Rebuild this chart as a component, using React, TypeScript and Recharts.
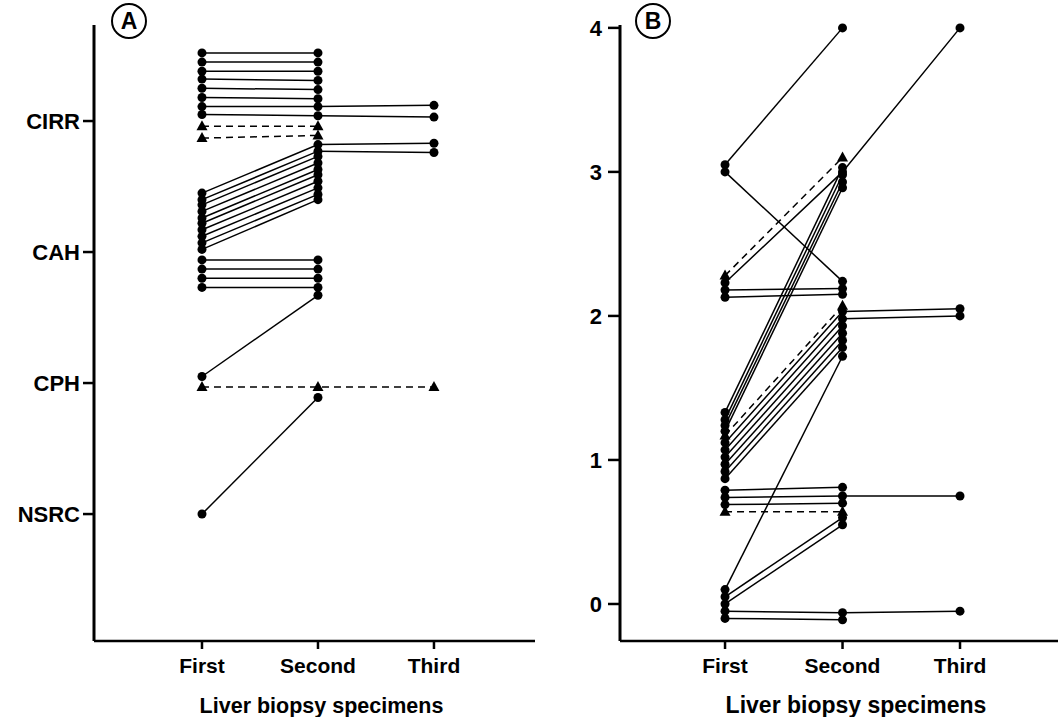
import React from 'react';
import { LineChart, Line, XAxis, YAxis } from 'recharts';

const stages = ['First', 'Second', 'Third'];
const classLabels = ['NSRC', 'CPH', 'CAH', 'CIRR'];
const classTicks = [0, 1, 2, 3];
const scoreTicks = [0, 1, 2, 3, 4];
const axisTitle = 'Liver biopsy specimens';

// Panel A: histological class per patient (0 = NSRC ... 3 = CIRR), null = no biopsy
const aFirst = [3.52, 3.45, 3.38, 3.32, 3.25, 3.18, 3.11, 3.05, 2.96, 2.87, 2.45, 2.4, 2.36, 2.31, 2.26, 2.22, 2.17, 2.12, 2.07, 2.02, 1.94, 1.87, 1.8, 1.73, 1.05, 0.97, 0.0];
const aSecond = [3.52, 3.45, 3.38, 3.31, 3.24, 3.17, 3.11, 3.04, 2.96, 2.89, 2.82, 2.77, 2.73, 2.68, 2.63, 2.59, 2.54, 2.49, 2.44, 2.4, 1.94, 1.87, 1.8, 1.73, 1.67, 0.97, 0.89];
const aThird = [null, null, null, null, null, null, 3.12, 3.03, null, null, 2.83, 2.76, null, null, null, null, null, null, null, null, null, null, null, null, null, 0.97, null];
const aDashed = [8, 9, 25];

// Panel B: score per patient
const bFirst = [3.05, 3.0, 2.28, 2.23, 2.18, 2.13, 1.33, 1.28, 1.24, 1.2, 1.17, 1.12, 1.07, 1.02, 0.97, 0.92, 0.87, 0.1, 0.79, 0.74, 0.69, 0.64, 0.05, 0.0, -0.05, -0.1];
const bSecond = [4.0, 2.24, 3.1, 3.0, 2.19, 2.15, 3.03, 2.98, 2.93, 2.89, 2.07, 2.03, 1.98, 1.93, 1.88, 1.83, 1.78, 1.72, 0.81, 0.75, 0.7, 0.64, 0.6, 0.55, -0.06, -0.11];
const bThird = [null, null, null, 4.0, null, null, null, null, null, null, null, 2.05, 2.0, null, null, null, null, null, null, 0.75, null, null, null, null, -0.05, null];
const bDashed = [2, 10, 21];

const FONT = '"Liberation Sans", Arial, Helvetica, sans-serif';

const buildRows = (first: (number | null)[], second: (number | null)[], third: (number | null)[]) =>
  [first, second, third].map((vals, i) => {
    const row: any = { x: i + 1 };
    vals.forEach((v, k) => {
      row['p' + k] = v;
    });
    return row;
  });

const dotFor = (tri: boolean) => (p: any) => {
  const key = `${p.dataKey}-${p.index}`;
  if (p.value == null || p.cy == null || isNaN(p.cy)) return <g key={key} />;
  if (tri) {
    return (
      <polygon
        key={key}
        points={`${p.cx},${p.cy - 6} ${p.cx - 5.5},${p.cy + 4} ${p.cx + 5.5},${p.cy + 4}`}
        fill="#000"
      />
    );
  }
  return <circle key={key} cx={p.cx} cy={p.cy} r={4.5} fill="#000" />;
};

interface PanelProps {
  first: (number | null)[];
  second: (number | null)[];
  third: (number | null)[];
  dashed: number[];
  width: number;
  yWidth: number;
  xDomain: [number, number];
  yDomain: [number, number];
  yTicks: number[];
  yFormat: (v: number) => string;
  yTickSize: number;
  yTickMargin: number;
  titleSize: number;
  titleDx: number;
}

const Panel: React.FC<PanelProps> = (props) => {
  const data = buildRows(props.first, props.second, props.third);
  return (
    <LineChart width={props.width} height={717} data={data} margin={{ top: 25, right: 6, bottom: 0, left: 0 }}>
      <XAxis
        type="number"
        dataKey="x"
        domain={props.xDomain}
        ticks={[1, 2, 3]}
        tickFormatter={(v: number) => stages[v - 1]}
        height={76}
        axisLine={{ stroke: '#000', strokeWidth: 2.5 }}
        tickLine={{ stroke: '#000', strokeWidth: 2.5 }}
        tickSize={8}
        tickMargin={9}
        tick={{ fill: '#000', fontSize: 21, fontWeight: 'bold', fontFamily: FONT }}
        label={{
          value: axisTitle,
          position: 'insideBottom',
          offset: 4,
          dx: props.titleDx,
          style: { fill: '#000', fontSize: props.titleSize, fontWeight: 'bold', fontFamily: FONT },
        }}
      />
      <YAxis
        type="number"
        domain={props.yDomain}
        ticks={props.yTicks}
        tickFormatter={props.yFormat}
        width={props.yWidth}
        axisLine={{ stroke: '#000', strokeWidth: 3 }}
        tickLine={{ stroke: '#000', strokeWidth: 2.5 }}
        tickSize={props.yTickSize}
        tickMargin={props.yTickMargin}
        tick={{ fill: '#000', fontSize: 22, fontWeight: 'bold', fontFamily: FONT }}
      />
      {props.first.map((_, k) => {
        const isDashed = props.dashed.includes(k);
        return (
          <Line
            key={k}
            type="linear"
            dataKey={'p' + k}
            stroke="#000"
            strokeWidth={1.5}
            strokeDasharray={isDashed ? '7 5' : undefined}
            dot={dotFor(isDashed)}
            activeDot={false}
            isAnimationActive={false}
          />
        );
      })}
    </LineChart>
  );
};

const Badge: React.FC<{ text: string; left: number; top: number }> = ({ text, left, top }) => (
  <div
    style={{
      position: 'absolute',
      left,
      top,
      width: 32,
      height: 32,
      border: '2.5px solid #000',
      borderRadius: '50%',
      display: 'flex',
      alignItems: 'center',
      justifyContent: 'center',
      fontFamily: FONT,
      fontWeight: 'bold',
      fontSize: 23,
      color: '#000',
    }}
  >
    {text}
  </div>
);

export default function App() {
  return (
    <div style={{ position: 'absolute', left: 0, top: 0, width: 1064, height: 717, background: '#fff' }}>
      <div style={{ position: 'absolute', left: 0, top: 0 }}>
        <Panel
          first={aFirst}
          second={aSecond}
          third={aThird}
          dashed={aDashed}
          width={541}
          yWidth={94}
          xDomain={[0.069, 3.871]}
          yDomain={[-0.969, 3.733]}
          yTicks={classTicks}
          yFormat={(v) => classLabels[v]}
          yTickSize={11}
          yTickMargin={3}
          titleSize={21.5}
          titleDx={7}
        />
      </div>
      <div style={{ position: 'absolute', left: 540, top: 0 }}>
        <Panel
          first={bFirst}
          second={bSecond}
          third={bThird}
          dashed={bDashed}
          width={524}
          yWidth={80}
          xDomain={[0.106, 3.834]}
          yDomain={[-0.257, 4.02]}
          yTicks={scoreTicks}
          yFormat={(v) => String(v)}
          yTickSize={12}
          yTickMargin={6}
          titleSize={23}
          titleDx={17}
        />
      </div>
      <Badge text="A" left={111} top={3} />
      <Badge text="B" left={635} top={3} />
    </div>
  );
}
